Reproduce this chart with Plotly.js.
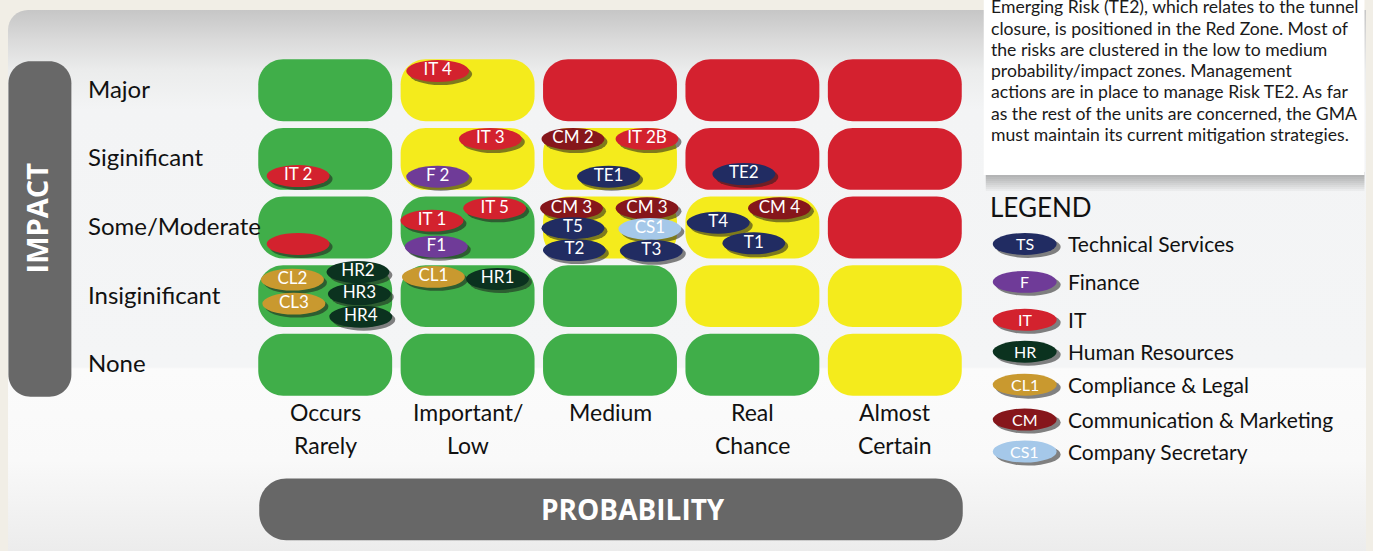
<!DOCTYPE html>
<html>
<head>
<meta charset="utf-8">
<script src="https://cdn.plot.ly/plotly-3.0.1.min.js"></script>
<style>
  html, body { margin: 0; padding: 0; background: #f1eee6; }
  #wrap { position: relative; width: 1373px; height: 551px; overflow: hidden; background: #f1eee6; }
  #panel {
    position: absolute; left: 8px; top: 10px; width: 1358px; height: 541px;
    border-top-left-radius: 20px;
    background: linear-gradient(to bottom,
      #c6c6c6 0px, #dadada 30px, #ebecec 60px, #f3f4f5 100px,
      #f4f5f6 357px, #fbfbfb 359px, #f9f9f9 450px, #ececec 541px);
  }
  #chart { position: absolute; left: 0; top: 0; width: 1373px; height: 551px; }
</style>
</head>
<body>
<div id="wrap"><div id="panel"></div><div id="chart"></div></div>
<script>
// ---- data ----
const probabilityLabels = [["Occurs", "Rarely"], ["Important/", "Low"], ["Medium", ""], ["Real", "Chance"], ["Almost", "Certain"]];
const impactLabels = ["None", "Insiginificant", "Some/Moderate", "Siginificant", "Major"]; // bottom to top

// zone of each cell, rows bottom (None) to top (Major), columns left to right
const zoneRows = [
  ["G", "G", "G", "G", "Y"],
  ["G", "G", "G", "Y", "Y"],
  ["G", "G", "Y", "Y", "R"],
  ["G", "Y", "Y", "R", "R"],
  ["G", "Y", "R", "R", "R"]
];

// risks: id, owning unit, probability (1-5) and impact (1-5) position on the matrix
const riskIds = ["IT 4", "IT 3", "CM 2", "IT 2B", "TE2", "IT 2", "F 2", "TE1",
  "IT 5", "CM 3", "CM 3", "CM 4", "IT 1", "T4", "T5", "CS1", "T1", "", "F1", "T2", "T3",
  "HR2", "CL1", "HR1", "CL2", "HR3", "CL3", "HR4"];
const riskUnits = ["IT", "IT", "CM", "IT", "TS", "IT", "F", "TS",
  "IT", "CM", "CM", "CM", "IT", "TS", "TS", "CS", "TS", "IT", "F", "TS", "TS",
  "HR", "CL", "HR", "CL", "HR", "CL", "HR"];
const riskProbability = [1.79, 2.16, 2.74, 3.26, 3.94, 0.81, 1.79, 2.99,
  2.19, 2.73, 3.26, 4.19, 1.75, 3.76, 2.74, 3.28, 4.01, 0.81, 1.78, 2.75, 3.29,
  1.23, 1.76, 2.21, 0.77, 1.24, 0.78, 1.25];
const riskImpact = [5.28, 4.29, 4.29, 4.29, 3.78, 3.75, 3.74, 3.74,
  3.28, 3.28, 3.28, 3.28, 3.10, 3.07, 2.99, 2.98, 2.77, 2.76, 2.72, 2.67, 2.66,
  2.35, 2.28, 2.25, 2.24, 2.03, 1.89, 1.70];

// legend
const unitCodes = ["TS", "F", "IT", "HR", "CL", "CM", "CS"];
const unitBadges = ["TS", "F", "IT", "HR", "CL1", "CM", "CS1"];
const unitNames = ["Technical Services", "Finance", "IT", "Human Resources",
  "Compliance & Legal", "Communication & Marketing", "Company Secretary"];
const unitColors = ["#212c62", "#6f3b98", "#d3222e", "#0b321f", "#c9992f", "#86161b", "#a5c8e9"];

const noteLines = [
  "Emerging Risk (TE2), which relates to the tunnel",
  "closure, is positioned in the Red Zone. Most of",
  "the risks are clustered in the low to medium",
  "probability/impact zones. Management",
  "actions are in place to manage Risk TE2. As far",
  "as the rest of the units are concerned, the GMA",
  "must maintain its current mitigation strategies."
];

// ---- layout helpers ----
const zoneFill = { G: "#40ae49", Y: "#f4eb1c", R: "#d4212f" };
const W = 1373, H = 551;
const M = { l: 253.75, r: 406.75, t: 55.625, b: 151.625 };
const PW = W - M.l - M.r, PH = H - M.t - M.b;
const pxX = x => (x - M.l) / PW;          // page pixel -> paper x
const pxY = y => (H - M.b - y) / PH;      // page pixel -> paper y
const unitX = PW / 5, unitY = PH / 5;     // pixels per data unit
const font = "Lato, 'Noto Sans', sans-serif";
const boldFont = "'Open Sans', 'DejaVu Sans', sans-serif";

function roundRect(l, b, r, t, rx, ry) {
  const k = 0.5523;
  return `M${l + rx},${b} L${r - rx},${b} C${r - rx + k * rx},${b} ${r},${b + ry - k * ry} ${r},${b + ry}` +
    ` L${r},${t - ry} C${r},${t - ry + k * ry} ${r - rx + k * rx},${t} ${r - rx},${t}` +
    ` L${l + rx},${t} C${l + rx - k * rx},${t} ${l},${t - ry + k * ry} ${l},${t - ry}` +
    ` L${l},${b + ry} C${l},${b + ry - k * ry} ${l + rx - k * rx},${b} ${l + rx},${b} Z`;
}
function pixelRoundRect(x0, y0, x1, y1, rad) {
  return roundRect(pxX(x0), pxY(y1), pxX(x1), pxY(y0), rad / PW, rad / PH);
}
function label(opts) {
  return Object.assign({ showarrow: false, xanchor: "center", yanchor: "middle" }, opts);
}

const shapes = [];
const annotations = [];

// text box with soft shadow
for (let k = 16; k >= 2; k -= 2) {
  shapes.push({ type: "rect", xref: "paper", yref: "paper", layer: "below",
    x0: pxX(986), x1: pxX(1365), y0: pxY(172), y1: pxY(175 + k),
    fillcolor: "rgba(0,0,0,0.035)", line: { width: 0 } });
}
shapes.push({ type: "rect", xref: "paper", yref: "paper", layer: "below",
  x0: pxX(984), x1: pxX(1365), y0: pxY(175), y1: pxY(-5),
  fillcolor: "#ffffff", line: { width: 0 } });
noteLines.forEach((line, i) => {
  annotations.push(label({ xref: "paper", yref: "paper", x: pxX(989), y: pxY(6.5 + 21.3 * i),
    xanchor: "left", text: line, font: { family: font, size: 17.6, color: "#1a1a1a" } }));
});

// impact and probability bars
shapes.push({ type: "path", xref: "paper", yref: "paper", layer: "below",
  path: pixelRoundRect(8, 61, 71, 397, 22), fillcolor: "#686868", line: { width: 0 } });
annotations.push(label({ xref: "paper", yref: "paper", x: pxX(36), y: pxY(218), textangle: -90,
  text: "<b>IMPACT</b>", font: { family: boldFont, size: 29, color: "#ffffff" } }));
shapes.push({ type: "path", xref: "paper", yref: "paper", layer: "below",
  path: pixelRoundRect(259, 479, 963, 541, 27), fillcolor: "#676767", line: { width: 0 } });
annotations.push(label({ xref: "paper", yref: "paper", x: pxX(633), y: pxY(510),
  text: "<b>PROBABILITY</b>", font: { family: boldFont, size: 28, color: "#ffffff" } }));

// matrix cells
const cellW = 134 / unitX, cellH = 62 / unitY;
const cr = 25;
zoneRows.forEach((row, ri) => {
  row.forEach((z, ci) => {
    const cx = ci + 1, cy = ri + 1;
    shapes.push({ type: "path", xref: "x", yref: "y", layer: "below",
      path: roundRect(cx - cellW / 2, cy - cellH / 2, cx + cellW / 2, cy + cellH / 2, cr / unitX, cr / unitY),
      fillcolor: zoneFill[z], line: { width: 0 } });
  });
});

// impact labels
impactLabels.forEach((lab, i) => {
  annotations.push(label({ xref: "paper", yref: "y", x: pxX(85.5), y: i + 1, xanchor: "left",
    yshift: 2, text: lab, font: { family: font, size: 24, color: "#111111" } }));
});
// probability labels
probabilityLabels.forEach((lines, i) => {
  lines.forEach((line, j) => {
    if (!line) return;
    annotations.push(label({ xref: "x", yref: "paper", x: i + 1, y: pxY(412 + 33 * j),
      text: line, font: { family: font, size: 23, color: "#111111" } }));
  });
});

// risk ellipses with drop shadows
const eW = 63 / unitX, eH = 22 / unitY;
const colorOf = u => unitColors[unitCodes.indexOf(u)];
riskIds.forEach((id, i) => {
  const x = riskProbability[i], y = riskImpact[i];
  const sx = 3 / unitX, sy = 3 / unitY;
  shapes.push({ type: "circle", xref: "x", yref: "y", layer: "below",
    x0: x - eW / 2 + sx, x1: x + eW / 2 + sx, y0: y - eH / 2 - sy, y1: y + eH / 2 - sy,
    fillcolor: "rgba(30,30,30,0.55)", line: { width: 0 } });
  shapes.push({ type: "circle", xref: "x", yref: "y", layer: "below",
    x0: x - eW / 2, x1: x + eW / 2, y0: y - eH / 2, y1: y + eH / 2,
    fillcolor: colorOf(riskUnits[i]), line: { width: 0 } });
});

// legend
const legendRowY = [244, 282, 320, 352, 385, 420, 452];
annotations.push(label({ xref: "paper", yref: "paper", x: pxX(988), y: pxY(207), xanchor: "left",
  text: "LEGEND", font: { family: font, size: 26, color: "#111111" } }));
unitCodes.forEach((u, i) => {
  const yc = legendRowY[i];
  shapes.push({ type: "circle", xref: "paper", yref: "paper", layer: "below",
    x0: pxX(996), x1: pxX(1061), y0: pxY(yc + 14), y1: pxY(yc - 8),
    fillcolor: "rgba(30,30,30,0.55)", line: { width: 0 } });
  shapes.push({ type: "circle", xref: "paper", yref: "paper", layer: "below",
    x0: pxX(993), x1: pxX(1057), y0: pxY(yc + 11), y1: pxY(yc - 11),
    fillcolor: unitColors[i], line: { width: 0 } });
  annotations.push(label({ xref: "paper", yref: "paper", x: pxX(1025), y: pxY(yc),
    text: unitBadges[i], font: { family: font, size: 16, color: "#ffffff" } }));
  annotations.push(label({ xref: "paper", yref: "paper", x: pxX(1066), y: pxY(yc), xanchor: "left",
    text: unitNames[i], font: { family: font, size: 21, color: "#111111" } }));
});

const trace = {
  type: "scatter", mode: "text",
  x: riskProbability, y: riskImpact, text: riskIds,
  textfont: { family: font, size: 17, color: "#ffffff" },
  hoverinfo: "skip", showlegend: false, cliponaxis: false
};

const layout = {
  width: W, height: H,
  margin: M,
  paper_bgcolor: "rgba(0,0,0,0)", plot_bgcolor: "rgba(0,0,0,0)",
  showlegend: false,
  xaxis: { range: [0.5, 5.5], showgrid: false, zeroline: false, showticklabels: false, showline: false, ticks: "", fixedrange: true },
  yaxis: { range: [0.5, 5.5], showgrid: false, zeroline: false, showticklabels: false, showline: false, ticks: "", fixedrange: true },
  shapes: shapes,
  annotations: annotations
};

Plotly.newPlot("chart", [trace], layout, { staticPlot: true, displayModeBar: false });
</script>
</body>
</html>
